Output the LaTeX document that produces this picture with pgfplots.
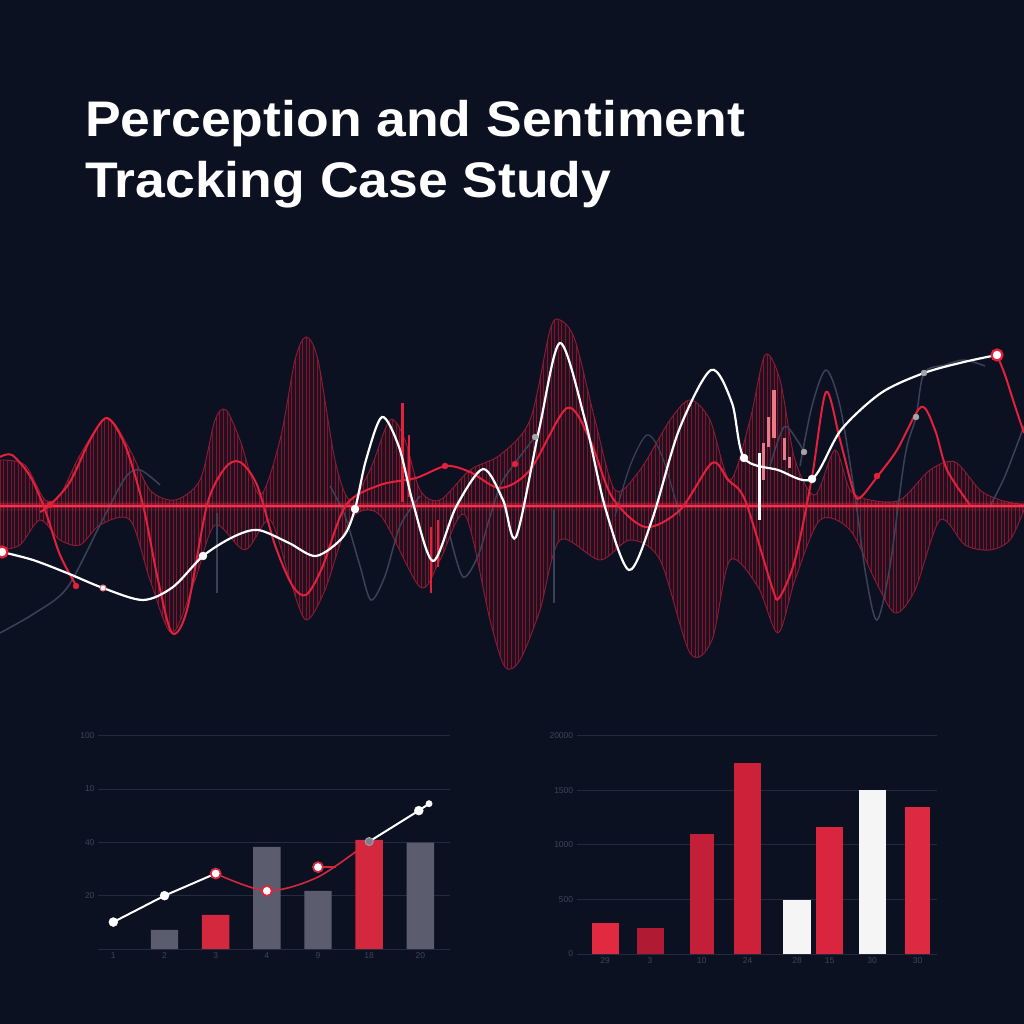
\documentclass[border=0pt]{standalone}
\usepackage{pgfplots}
\pgfplotsset{compat=1.18}
\usetikzlibrary{patterns.meta}
\usepackage{fontspec}
\setmainfont{Liberation Sans}
\newfontfamily\titlefont[FakeStretch=1.07]{Liberation Sans}
\definecolor{bg}{HTML}{0B1121}
\definecolor{gridc}{HTML}{242B3E}
\definecolor{tickc}{HTML}{3E4558}
\definecolor{graybar}{HTML}{5B5D6E}
\definecolor{redbar}{HTML}{D4283F}
\definecolor{hatch}{HTML}{7C172E}
\definecolor{hatchfill}{HTML}{5A1024}
\definecolor{hatchline}{HTML}{8E1C33}
\definecolor{bright}{HTML}{E3213D}
\definecolor{centre}{HTML}{FF2E4A}
\definecolor{grayline}{HTML}{3C4256}
\definecolor{pink}{HTML}{E97A88}
\definecolor{rA}{HTML}{E1293F}
\definecolor{rB}{HTML}{B01A33}
\definecolor{rC}{HTML}{C41F38}
\definecolor{rD}{HTML}{CC2139}
\definecolor{rE}{HTML}{D9263E}
\definecolor{rF}{HTML}{DC2A42}
\definecolor{wbar}{HTML}{F5F5F5}
\begin{document}
\begin{tikzpicture}
\fill[bg] (0pt,0pt) rectangle (1024pt,1024pt);
\node[anchor=base west, inner sep=0, text=white, font=\titlefont\bfseries\fontsize{50}{60}\selectfont] at (85pt,887pt) {Perception and Sentiment};
\node[anchor=base west, inner sep=0, text=white, font=\titlefont\bfseries\fontsize{50}{60}\selectfont] at (85pt,826pt) {Tracking Case Study};

% ---------------- middle wave chart ----------------
\begin{axis}[at={(0pt,328pt)}, anchor=south west, width=1024pt, height=390pt,
  scale only axis, xmin=0, xmax=1024, ymin=-190, ymax=200, hide axis, clip=false]
% hatched envelope: upper edge left to right, then lower edge right to left
\addplot[fill=hatchfill, fill opacity=0.3, draw=none, smooth] coordinates {
(0,46) (25,41) (45,6) (60,11) (80,51) (107,88) (130,56) (150,16) (175,6) (200,26) (215,86) (226,96) (240,66) (260,11) (280,66) (295,146) (306,169) (318,146) (335,46) (350,6) (370,36) (390,86) (405,66) (420,16) (440,6) (470,36) (500,51) (530,86) (550,176) (560,186) (575,166) (595,86) (615,16) (640,36) (670,86) (690,106) (710,86) (730,26) (750,86) (765,151) (780,126) (795,46) (815,11) (835,56) (850,16) (870,6) (900,6) (930,36) (955,44) (980,16) (1000,6) (1024,1)
(1024,-4) (1010,-34) (990,-44) (965,-39) (940,-14) (915,-84) (895,-107) (875,-74) (850,-24) (820,-14) (795,-74) (778,-127) (758,-81) (730,-54) (712,-134) (690,-147) (660,-54) (630,-34) (600,-54) (560,-34) (540,-104) (520,-154) (505,-161) (490,-114) (465,-9) (440,-54) (420,-81) (380,-9) (350,-14) (325,-84) (306,-114) (290,-74) (270,-14) (245,-44) (215,-19) (195,-74) (172,-127) (150,-74) (130,-14) (100,-19) (80,-39) (60,-34) (40,-14) (20,-39) (0,-44)} \closedcycle;
\addplot[pattern={Lines[angle=90,distance=3.6pt,line width=0.6pt]}, pattern color=hatch, draw=none, smooth] coordinates {
(0,46) (25,41) (45,6) (60,11) (80,51) (107,88) (130,56) (150,16) (175,6) (200,26) (215,86) (226,96) (240,66) (260,11) (280,66) (295,146) (306,169) (318,146) (335,46) (350,6) (370,36) (390,86) (405,66) (420,16) (440,6) (470,36) (500,51) (530,86) (550,176) (560,186) (575,166) (595,86) (615,16) (640,36) (670,86) (690,106) (710,86) (730,26) (750,86) (765,151) (780,126) (795,46) (815,11) (835,56) (850,16) (870,6) (900,6) (930,36) (955,44) (980,16) (1000,6) (1024,1)
(1024,-4) (1010,-34) (990,-44) (965,-39) (940,-14) (915,-84) (895,-107) (875,-74) (850,-24) (820,-14) (795,-74) (778,-127) (758,-81) (730,-54) (712,-134) (690,-147) (660,-54) (630,-34) (600,-54) (560,-34) (540,-104) (520,-154) (505,-161) (490,-114) (465,-9) (440,-54) (420,-81) (380,-9) (350,-14) (325,-84) (306,-114) (290,-74) (270,-14) (245,-44) (215,-19) (195,-74) (172,-127) (150,-74) (130,-14) (100,-19) (80,-39) (60,-34) (40,-14) (20,-39) (0,-44)} \closedcycle;
\addplot[draw=hatchline, line width=0.9pt, smooth] coordinates {
(0,46) (25,41) (45,6) (60,11) (80,51) (107,88) (130,56) (150,16) (175,6) (200,26) (215,86) (226,96) (240,66) (260,11) (280,66) (295,146) (306,169) (318,146) (335,46) (350,6) (370,36) (390,86) (405,66) (420,16) (440,6) (470,36) (500,51) (530,86) (550,176) (560,186) (575,166) (595,86) (615,16) (640,36) (670,86) (690,106) (710,86) (730,26) (750,86) (765,151) (780,126) (795,46) (815,11) (835,56) (850,16) (870,6) (900,6) (930,36) (955,44) (980,16) (1000,6) (1024,1)};
\addplot[draw=hatchline, line width=0.9pt, smooth] coordinates {
(0,-44) (20,-39) (40,-14) (60,-34) (80,-39) (100,-19) (130,-14) (150,-74) (172,-127) (195,-74) (215,-19) (245,-44) (270,-14) (290,-74) (306,-114) (325,-84) (350,-14) (380,-9) (420,-81) (440,-54) (465,-9) (490,-114) (505,-161) (520,-154) (540,-104) (560,-34) (600,-54) (630,-34) (660,-54) (690,-147) (712,-134) (730,-54) (758,-81) (778,-127) (795,-74) (820,-14) (850,-24) (875,-74) (895,-107) (915,-84) (940,-14) (965,-39) (990,-44) (1010,-34) (1024,-4)};
% gray lines
\addplot[grayline, line width=1.5pt, smooth] coordinates {(0,-127) (35,-107) (67,-82) (100,-19) (125,28) (140,36) (160,21)};
\addplot[grayline, line width=1.5pt, smooth] coordinates {(330,20) (345,-10) (360,-60) (371,-94) (385,-70) (400,-20) (420,10)};
\addplot[grayline, line width=1.5pt, smooth] coordinates {(450,-30) (463,-71) (478,-50) (489,-14) (500,20) (512,39) (535,69)};
\addplot[grayline, line width=1.2pt, smooth] coordinates {(615,-10) (630,40) (647,71) (662,50) (680,-10)};
\addplot[grayline, line width=1.5pt, smooth] coordinates {(770,40) (784,79) (797,66) (804,54)};
\addplot[grayline, line width=1.5pt, smooth] coordinates {(800,40) (812,100) (826,136) (840,100) (855,10) (866,-70) (877,-114) (890,-60) (905,50) (916,89) (924,133) (945,141) (964,146) (985,140)};
\addplot[grayline, line width=1.5pt, smooth] coordinates {(990,0) (1005,30) (1024,80)};
% centre line with glow
\addplot[centre, line width=10pt, opacity=0.12] coordinates {(0,0) (1024,0)};
\addplot[centre, line width=5pt, opacity=0.3] coordinates {(0,0) (1024,0)};
\addplot[centre, line width=2pt] coordinates {(0,0) (1024,0)};
% red curves
\addplot[bright, line width=2pt, smooth] coordinates {(0,49) (12,51) (30,30) (45,-4) (60,-49) (77,-81)};
\addplot[bright, line width=2pt, smooth] coordinates {
(40,-6) (50,1) (70,24) (90,66) (107,88) (125,61) (143,1) (158,-74) (172,-127) (187,-104) (207,1) (225,38) (240,44) (257,21) (275,-39) (292,-79) (306,-89) (322,-62) (346,1) (380,21) (416,28) (446,40) (470,34) (500,18) (530,36) (567,98) (590,66) (612,9) (645,-21) (680,-4) (712,43) (728,26) (745,6) (772,-81) (779,-92) (795,-54) (812,29) (826,114) (840,66) (854,13) (861,9) (877,29) (897,56) (921,99) (935,76) (947,36) (970,1)};
\addplot[bright, line width=2pt, smooth] coordinates {(997,151) (1005,131) (1014,103) (1024,73)};
% vertical bars
\addplot[bright, line width=3pt] coordinates {(402,4) (402,103)};
\addplot[bright, line width=2pt] coordinates {(409,9) (409,71)};
\addplot[bright, line width=2.5pt] coordinates {(431,-87) (431,-21)};
\addplot[bright, line width=2pt] coordinates {(438,-61) (438,-14)};
\addplot[grayline, line width=2.5pt] coordinates {(217,-87) (217,-7)};
\addplot[grayline, line width=2.5pt] coordinates {(554,-97) (554,-4)};
% candles
\addplot[white, line width=3pt] coordinates {(759,-14) (759,53)};
\addplot[pink, line width=3pt] coordinates {(763,26) (763,63)};
\addplot[pink, line width=3pt] coordinates {(768,59) (768,89)};
\addplot[pink, line width=3.5pt] coordinates {(774,68) (774,116)};
\addplot[pink, line width=3pt] coordinates {(784,46) (784,68)};
\addplot[pink, line width=3pt] coordinates {(789,38) (789,49)};
% white line
\addplot[white, line width=2.2pt, smooth] coordinates {
(2,-46) (33,-54) (67,-67) (103,-82) (143,-94) (173,-81) (203,-50) (233,-31) (258,-24) (289,-37) (316,-50) (343,-31) (355,-3) (366,46) (382,89) (399,59) (413,3) (433,-55) (456,-1) (483,37) (503,6) (516,-31) (539,76) (560,163) (585,86) (605,-1) (629,-64) (652,-14) (679,76) (711,136) (732,103) (744,48) (778,36) (812,27) (841,76) (881,113) (924,133) (964,144) (997,151)};
% dots
\addplot[only marks, mark=*, mark size=3pt, mark options={fill=bright, draw=bright}] coordinates {(50,1) (76,-80) (515,42) (877,30) (445,40)};
\addplot[only marks, mark=*, mark size=3pt, mark options={fill=gray!70, draw=gray!70}] coordinates {(535,69) (916,89) (924,133) (804,54)};
\addplot[only marks, mark=*, mark size=4pt, mark options={fill=white, draw=white}] coordinates {(203,-50) (355,-3) (744,48) (812,27)};
\addplot[only marks, mark=*, mark size=3pt, mark options={fill=white, draw=bright!60, line width=1pt}] coordinates {(103,-82)};
\addplot[only marks, mark=*, mark size=5.5pt, mark options={fill=white, draw=bright, line width=2.2pt}] coordinates {(2,-46) (997,151)};
\end{axis}

% ---------------- bottom left chart ----------------
\begin{axis}[at={(98pt,75pt)}, anchor=south west, width=352pt, height=213.3pt, scale only axis,
  xmin=-0.3, xmax=6.58, ymin=0, ymax=80,
  axis line style={draw=none}, tick style={draw=none},
  ymajorgrids, major grid style={draw=gridc, line width=0.9pt},
  ytick={0,20,40,60,80}, yticklabels={,20,40,10,100},
  xtick={0,1,2,3,4,5,6}, xticklabels={1,2,3,4,9,18,20},
  ticklabel style={font=\fontsize{8.5}{9}\selectfont, text=tickc},
  clip=false]
\addplot[ybar, bar shift=0pt, bar width=0.535, fill=graybar, draw=none] coordinates {(1,7.2) (3,38.3) (4,21.8) (6,39.9)};
\addplot[ybar, bar shift=0pt, bar width=0.535, fill=redbar, draw=none] coordinates {(2,12.8) (5,40.9)};
\addplot[white, line width=2pt] coordinates {(0,10.1) (1,20) (2,28.3)};
\addplot[redbar, line width=1.6pt, smooth] coordinates {(2,28.3) (3,21.8) (4,27) (5,40.3)};
\addplot[redbar, line width=1.4pt] coordinates {(4,30.7) (4.35,30.7)};
\addplot[white, line width=2pt] coordinates {(5,40.3) (5.97,51.9) (6.17,54.5)};
\addplot[only marks, mark=*, mark size=4.5pt, mark options={fill=white, draw=white}] coordinates {(0,10.1) (1,20) (5.97,51.9)};
\addplot[only marks, mark=*, mark size=3.2pt, mark options={fill=white, draw=white}] coordinates {(6.17,54.5)};
\addplot[only marks, mark=*, mark size=5pt, mark options={fill=white, draw=redbar, line width=1.8pt}] coordinates {(2,28.3) (3,21.8) (4,30.7)};
\addplot[only marks, mark=*, mark size=4pt, mark options={fill=graybar!80!white, draw=graybar!60!white, line width=1pt}] coordinates {(5,40.3)};
\end{axis}

% ---------------- bottom right chart ----------------
\begin{axis}[at={(576.7pt,70pt)}, anchor=south west, width=360pt, height=218.3pt, scale only axis,
  xmin=0, xmax=360, ymin=0, ymax=2000,
  axis line style={draw=none}, tick style={draw=none},
  ymajorgrids, major grid style={draw=gridc, line width=0.9pt},
  ytick={0,500,1000,1500,2000}, yticklabels={0,500,1000,1500,20000},
  xtick={28.3,73.3,125,170.8,220.3,252.8,295.3,340.8},
  xticklabels={29,3,10,24,28,15,30,30},
  ticklabel style={font=\fontsize{8.5}{9}\selectfont, text=tickc},
  clip=false]
\addplot[ybar, bar shift=0pt, bar width=27, fill=rA, draw=none] coordinates {(28.3,287)};
\addplot[ybar, bar shift=0pt, bar width=27, fill=rB, draw=none] coordinates {(73.3,236)};
\addplot[ybar, bar shift=0pt, bar width=24, fill=rC, draw=none] coordinates {(125,1103)};
\addplot[ybar, bar shift=0pt, bar width=27, fill=rD, draw=none] coordinates {(170.8,1749)};
\addplot[ybar, bar shift=0pt, bar width=27.5, fill=wbar, draw=none] coordinates {(220.3,492)};
\addplot[ybar, bar shift=0pt, bar width=27, fill=rE, draw=none] coordinates {(252.8,1165)};
\addplot[ybar, bar shift=0pt, bar width=27, fill=wbar, draw=none] coordinates {(295.3,1501)};
\addplot[ybar, bar shift=0pt, bar width=25, fill=rF, draw=none] coordinates {(340.8,1345)};
\end{axis}
\pgfresetboundingbox
\path[use as bounding box] (0pt,0pt) rectangle (1024pt,1024pt);
\end{tikzpicture}
\end{document}
